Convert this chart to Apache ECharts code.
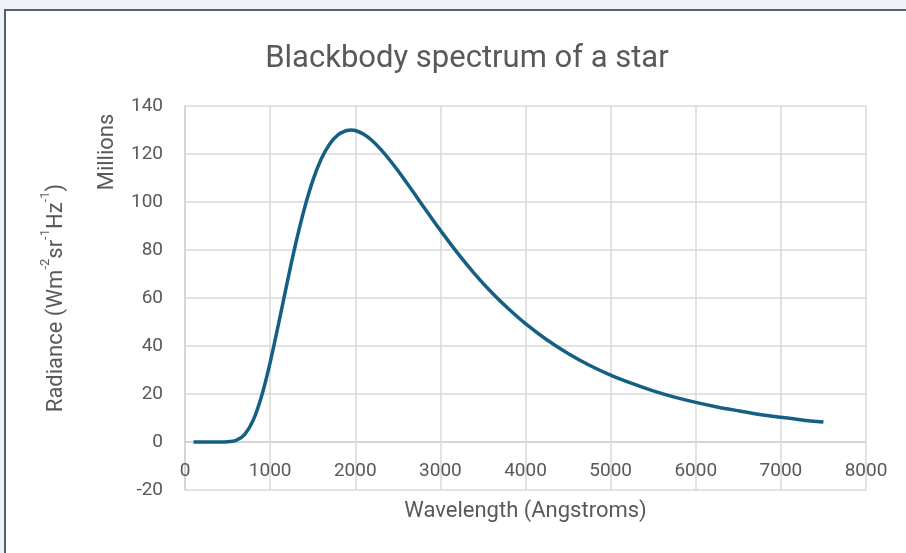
<!DOCTYPE html>
<html>
<head>
<meta charset="utf-8">
<script src="https://cdn.jsdelivr.net/npm/echarts@6/dist/echarts.min.js"></script>
<style>
  html, body { margin: 0; padding: 0; background: #eef1f5; }
  #panel { position: absolute; left: 4px; top: 9px; width: 1000px; height: 700px;
           background: #ffffff; border-left: 2px solid #566072; border-top: 2px solid #566072; }
  #chart { position: absolute; left: 0; top: 0; width: 906px; height: 553px; }
</style>
</head>
<body>
<div id="panel"></div>
<div id="chart"></div>
<script>
// Wavelength (Angstroms)
const wavelengths = [100, 200, 300, 400, 500, 600, 700, 800, 900, 1000, 1100, 1200, 1300, 1400, 1500,
  1600, 1700, 1800, 1900, 1950, 2000, 2100, 2200, 2300, 2400, 2500, 2600, 2700, 2800, 2900, 3000,
  3200, 3400, 3600, 3800, 4000, 4250, 4500, 4750, 5000, 5250, 5500, 5750, 6000, 6250, 6500,
  6750, 7000, 7250, 7500];
// Radiance (millions)
const radiance = [0, 0, 0, 0, 0.07, 0.68, 3.1, 9.0, 19.2, 33.1, 49.4, 66.4, 82.6, 96.9, 108.8,
  117.9, 124.2, 128.1, 129.8, 130.0, 129.8, 128.2, 125.5, 121.9, 117.7, 113.1, 108.2, 103.2, 98.1, 93.1, 88.2,
  78.8, 70.2, 62.4, 55.5, 49.3, 42.6, 36.9, 32.0, 27.9, 24.4, 21.3, 18.7, 16.5, 14.6, 13.0,
  11.5, 10.3, 9.2, 8.3];
const titleText = 'Blackbody spectrum of a star';
const xName = 'Wavelength (Angstroms)';
const unitLabel = 'Millions';

const FONT = 'Roboto, "Liberation Sans", sans-serif';
const TXT = '#595959';

const chart = echarts.init(document.getElementById('chart'), null, { renderer: 'canvas' });
chart.setOption({
  backgroundColor: 'transparent',
  animation: false,
  title: {
    text: titleText,
    left: 462, top: 39, textAlign: 'center',
    textStyle: { fontFamily: FONT, fontSize: 31, fontWeight: 'normal', color: TXT }
  },
  grid: { left: 185, right: 40, top: 106, bottom: 63, containLabel: false, outerBoundsMode: 'none' },
  xAxis: {
    type: 'value', min: 0, max: 8000, interval: 1000,
    name: xName, nameLocation: 'middle', nameGap: 10,
    nameTextStyle: { fontFamily: FONT, fontSize: 22, color: TXT },
    axisLine: { show: false },
    axisTick: { show: false },
    axisLabel: { fontFamily: FONT, fontSize: 19, color: TXT, margin: -28, formatter: v => String(v) },
    splitLine: { show: true, lineStyle: { color: '#d9d9d9', width: 1.5 } }
  },
  yAxis: {
    type: 'value', min: -20, max: 140, interval: 20,
    name: '{b|Radiance (Wm}{s|-2}{b|sr}{s|-1}{b|Hz}{s|-1}{b|)}',
    nameLocation: 'middle', nameGap: 118,
    nameTextStyle: {
      fontFamily: FONT, fontSize: 22, color: TXT,
      rich: {
        b: { fontFamily: FONT, fontSize: 22, color: TXT, lineHeight: 28, verticalAlign: 'bottom' },
        s: { fontFamily: FONT, fontSize: 13, color: TXT, lineHeight: 28, verticalAlign: 'top' }
      }
    },
    axisLine: { show: true, lineStyle: { color: '#d0d0d0', width: 1.5 } },
    axisTick: { show: false },
    axisLabel: { fontFamily: FONT, fontSize: 19, color: TXT, margin: 22, formatter: v => String(v) },
    splitLine: { show: true, lineStyle: {
      color: ['#d9d9d9', '#c6c6c6', '#d9d9d9', '#d9d9d9', '#d9d9d9', '#d9d9d9', '#d9d9d9', '#d9d9d9', '#d9d9d9'],
      width: 1.5 } }
  },
  graphic: [{
    type: 'text', x: 107, y: 152, rotation: Math.PI / 2,
    style: { text: unitLabel, fontFamily: FONT, fontSize: 22, fill: TXT, align: 'center', verticalAlign: 'middle' }
  }],
  series: [{
    type: 'line',
    data: wavelengths.map((w, i) => [w, radiance[i]]),
    showSymbol: false, smooth: 0.3,
    lineStyle: { color: '#156082', width: 3.5 },
    itemStyle: { color: '#156082' }
  }]
});
</script>
</body>
</html>
